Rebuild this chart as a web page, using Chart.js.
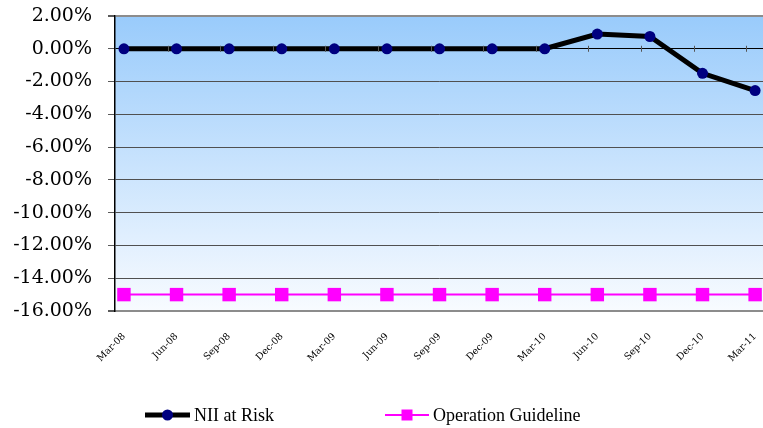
<!DOCTYPE html>
<html>
<head>
<meta charset="utf-8">
<script src="https://cdn.jsdelivr.net/npm/chart.js@4.4.1/dist/chart.umd.min.js"></script>
<style>
  html, body { margin: 0; padding: 0; background: #ffffff; }
  #wrap { width: 763px; height: 428px; position: relative; }
</style>
</head>
<body>
<div id="wrap"><canvas id="c" width="763" height="428"></canvas></div>
<script>
// Quarter-end dates
const categories = ['Mar-08','Jun-08','Sep-08','Dec-08','Mar-09','Jun-09','Sep-09','Dec-09','Mar-10','Jun-10','Sep-10','Dec-10','Mar-11'];
// Net interest income at risk, percent
const niiAtRisk = [0, 0, 0, 0, 0, 0, 0, 0, 0, 0.9, 0.75, -1.5, -2.55];
// Operating guideline limit, percent
const guideline = [-15, -15, -15, -15, -15, -15, -15, -15, -15, -15, -15, -15, -15];
// Value axis range
const yMin = -16, yMax = 2, yStep = 2;

const toPoints = arr => arr.map((v, i) => ({ x: i, y: v }));

// Plot background gradient, zero-line category ticks and a bottom legend
const decor = {
  id: 'decor',
  beforeDraw(chart) {
    const { ctx, chartArea: a } = chart;
    const g = ctx.createLinearGradient(0, a.top, 0, a.bottom);
    g.addColorStop(0, '#99cbfb');
    g.addColorStop(1, '#f8fbff');
    ctx.save();
    ctx.fillStyle = g;
    ctx.fillRect(a.left, a.top, a.right - a.left, a.bottom - a.top);
    ctx.restore();
  },
  afterDraw(chart) {
    const { ctx, scales } = chart;
    const xs = scales.x, ys = scales.y;
    // small category tick marks on the zero line
    const y0 = ys.getPixelForValue(0);
    ctx.save();
    ctx.strokeStyle = '#555555';
    ctx.lineWidth = 1;
    for (let i = 1; i < categories.length; i++) {
      const px = Math.round(xs.getPixelForValue(i + xs.min)) + 0.5;
      ctx.beginPath();
      ctx.moveTo(px, y0 - 3);
      ctx.lineTo(px, y0 + 3);
      ctx.stroke();
    }
    ctx.restore();

    // legend
    const items = [
      { ds: chart.data.datasets[0], x0: 145, x1: 190, tx: 194 },
      { ds: chart.data.datasets[1], x0: 385, x1: 429, tx: 433 }
    ];
    const ly = 415;
    ctx.save();
    items.forEach(it => {
      const ds = it.ds;
      ctx.strokeStyle = ds.borderColor;
      ctx.lineWidth = ds.borderWidth;
      ctx.beginPath();
      ctx.moveTo(it.x0, ly);
      ctx.lineTo(it.x1, ly);
      ctx.stroke();
      const cx = (it.x0 + it.x1) / 2;
      ctx.fillStyle = ds.pointBackgroundColor;
      if (ds.pointStyle === 'rect') {
        ctx.fillRect(cx - 5.5, ly - 5.5, 11, 11);
      } else {
        ctx.beginPath();
        ctx.arc(cx, ly, 5.5, 0, Math.PI * 2);
        ctx.fill();
      }
      ctx.fillStyle = '#000000';
      ctx.font = '18px "Liberation Serif", "Times New Roman", serif';
      ctx.textAlign = 'left';
      ctx.textBaseline = 'middle';
      ctx.fillText(ds.label, it.tx, ly + 1);
    });
    ctx.restore();
  }
};

new Chart(document.getElementById('c'), {
  type: 'line',
  data: {
    datasets: [
      {
        label: 'NII at Risk',
        data: toPoints(niiAtRisk),
        borderColor: '#000000',
        borderWidth: 5,
        pointStyle: 'circle',
        pointRadius: 5.5,
        pointBackgroundColor: '#000080',
        pointBorderColor: '#000080',
        pointBorderWidth: 0,
        tension: 0
      },
      {
        label: 'Operation Guideline',
        data: toPoints(guideline),
        borderColor: '#ff00ff',
        borderWidth: 2,
        pointStyle: 'rect',
        pointRadius: 9.5,
        pointBackgroundColor: '#ff00ff',
        pointBorderColor: '#ff00ff',
        pointBorderWidth: 0,
        tension: 0
      }
    ]
  },
  options: {
    responsive: false,
    animation: false,
    devicePixelRatio: 1,
    layout: { autoPadding: false, padding: { top: 16, right: 0, bottom: 0, left: 0 } },
    plugins: {
      legend: { display: false },
      tooltip: { enabled: false }
    },
    scales: {
      x: {
        type: 'linear',
        min: -0.17,
        max: 12.15,
        afterBuildTicks(scale) {
          scale.ticks = categories.map((_, i) => ({ value: i }));
        },
        afterFit(scale) {
          scale.height = 117;
          scale.paddingLeft = 0;
          scale.paddingRight = 0;
        },
        grid: { display: false, drawTicks: false },
        border: { display: true, color: '#8c8c8c', width: 2 },
        ticks: {
          autoSkip: false,
          minRotation: 45,
          maxRotation: 45,
          padding: 20,
          color: '#000000',
          font: { family: '"DejaVu Serif", serif', size: 9.5 },
          callback: v => categories[v]
        }
      },
      y: {
        min: yMin,
        max: yMax,
        afterFit(scale) {
          scale.width = 115;
          scale.paddingTop = 0;
          scale.paddingBottom = 0;
        },
        grid: {
          drawTicks: true,
          tickLength: 7,
          tickColor: '#5a5a5a',
          color: ctx => {
            const v = ctx.tick.value;
            if (v === 0) return '#000000';
            if (v === yMax || v === yMin) return '#8c8c8c';
            return '#505050';
          },
          lineWidth: ctx => {
            const v = ctx.tick.value;
            return (v === yMax || v === yMin) ? 2 : 1;
          }
        },
        border: { display: true, color: '#000000', width: 1.5 },
        ticks: {
          stepSize: yStep,
          padding: 16,
          color: '#000000',
          font: { family: '"DejaVu Serif", serif', size: 19 },
          callback: v => v.toFixed(2) + '%'
        }
      }
    }
  },
  plugins: [decor]
});
</script>
</body>
</html>
